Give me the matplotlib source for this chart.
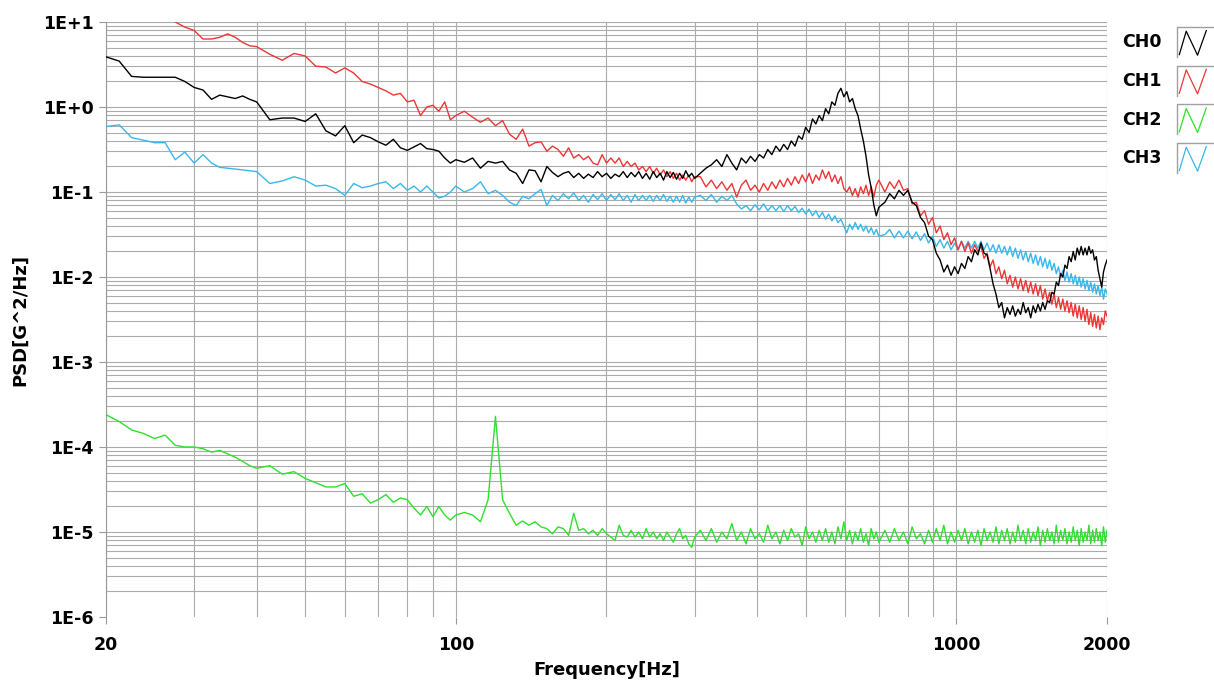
import numpy as np
import matplotlib
matplotlib.use("Agg")
import matplotlib.pyplot as plt
from matplotlib.ticker import FixedLocator, FuncFormatter, LogLocator, NullFormatter
from matplotlib.legend_handler import HandlerBase
from matplotlib.lines import Line2D

# FFT bin frequencies [Hz], coarser at low end
freq = np.concatenate([
    np.arange(20, 40.1, 1.25),
    np.arange(42.5, 100.1, 2.5),
    np.arange(104, 301, 4),
    np.arange(308, 701, 8),
    np.arange(720, 2001, 16),
])

# PSD values, stored as log10(G^2/Hz)
ch0_log = [
    0.59, 0.54, 0.36, 0.35, 0.35, 0.35, 0.35, 0.30, 0.23, 0.20, 0.09, 0.14, 0.12, 0.10, 0.13, 0.09, 0.06,
    -0.15, -0.13, -0.13, -0.17, -0.08, -0.28, -0.34, -0.22, -0.42, -0.33, -0.36, -0.41,
    -0.45, -0.38, -0.48, -0.51, -0.47, -0.43, -0.49, -0.50, -0.52, -0.60, -0.66, -0.62,
    -0.65, -0.60, -0.72, -0.64, -0.66, -0.64, -0.74, -0.78, -0.90, -0.74,
    -0.75, -0.88, -0.70, -0.77, -0.82, -0.78, -0.76, -0.83, -0.78, -0.84,
    -0.79, -0.83, -0.76, -0.82, -0.78, -0.84, -0.79, -0.82, -0.76, -0.83,
    -0.77, -0.82, -0.76, -0.84, -0.78, -0.85, -0.76, -0.83, -0.78, -0.86,
    -0.76, -0.83, -0.77, -0.85, -0.78, -0.84, -0.75, -0.82, -0.78, -0.84,
    -0.78, -0.72, -0.68, -0.62, -0.70, -0.56, -0.66, -0.74, -0.60, -0.66,
    -0.58, -0.64, -0.56, -0.60, -0.50, -0.56, -0.46, -0.52, -0.44, -0.50,
    -0.40, -0.46, -0.34, -0.38, -0.24, -0.30, -0.14, -0.20, -0.10, -0.16,
    -0.02, -0.08, 0.06, 0.02, 0.16, 0.22, 0.12, 0.18, 0.06, 0.10,
    -0.02, -0.10, -0.26, -0.40, -0.58, -0.80, -0.95, -1.15, -1.28, -1.18,
    -1.12, -1.02, -1.08, -0.98, -1.04, -0.98, -1.12, -1.16, -1.30, -1.36,
    -1.52, -1.56, -1.72, -1.80, -1.94, -1.86, -1.98, -1.88, -1.96, -1.84,
    -1.90, -1.76, -1.82, -1.68, -1.74, -1.60, -1.72, -1.74, -1.90, -2.08,
    -2.20, -2.36, -2.30, -2.48, -2.36, -2.44, -2.34, -2.46, -2.38, -2.44,
    -2.30, -2.42, -2.36, -2.48, -2.34, -2.42, -2.32, -2.40, -2.30, -2.38,
    -2.28, -2.30, -2.18, -2.20, -2.06, -2.10, -1.96, -2.00, -1.86, -1.90,
    -1.76, -1.82, -1.70, -1.80, -1.66, -1.74, -1.64, -1.74, -1.66, -1.74,
    -1.64, -1.72, -1.68, -1.80, -1.76, -1.92, -2.02, -2.12, -1.94, -1.86,
    -1.80,
]

ch1_log = [
    1.35, 1.30, 1.25, 1.20, 1.15, 1.08, 1.00, 0.94, 0.90, 0.80, 0.80, 0.82, 0.86, 0.82, 0.76, 0.72, 0.71,
    0.62, 0.55, 0.63, 0.60, 0.48, 0.47, 0.40, 0.46, 0.40, 0.30, 0.27, 0.23,
    0.19, 0.14, 0.16, 0.06, 0.08, -0.10, 0.00, 0.02, -0.05, 0.06, -0.15, -0.10,
    -0.05, -0.12, -0.18, -0.13, -0.22, -0.16, -0.32, -0.38, -0.26, -0.46,
    -0.42, -0.41, -0.52, -0.46, -0.50, -0.58, -0.48, -0.60, -0.56, -0.62,
    -0.58, -0.66, -0.68, -0.56, -0.66, -0.60, -0.66, -0.60, -0.70, -0.64,
    -0.70, -0.66, -0.74, -0.70, -0.76, -0.70, -0.78, -0.72, -0.80, -0.74,
    -0.82, -0.76, -0.84, -0.78, -0.86, -0.80, -0.86, -0.80, -0.88, -0.82,
    -0.82, -0.94, -0.86, -0.96, -0.88, -0.98, -0.90, -1.06, -0.92, -0.86,
    -0.98, -0.92, -1.00, -0.90, -0.98, -0.88, -0.96, -0.86, -0.94, -0.84,
    -0.92, -0.82, -0.90, -0.80, -0.88, -0.78, -0.90, -0.80, -0.86, -0.74,
    -0.84, -0.76, -0.88, -0.80, -0.90, -0.82, -0.96, -1.00, -0.94, -1.04,
    -0.96, -1.06, -0.94, -1.02, -0.92, -1.04, -0.94, -1.06, -0.92, -0.86,
    -1.00, -0.88, -0.96, -0.86, -0.98, -0.96, -1.14, -1.12, -1.28, -1.22,
    -1.38, -1.30, -1.48, -1.40, -1.56, -1.48, -1.62, -1.54, -1.68, -1.58,
    -1.70, -1.60, -1.72, -1.62, -1.70, -1.64, -1.78, -1.72, -1.88, -1.80,
    -1.96, -1.88, -2.02, -1.92, -2.08, -1.98, -2.12, -2.00, -2.14, -2.02,
    -2.16, -2.04, -2.18, -2.06, -2.20, -2.08, -2.22, -2.10, -2.26, -2.14,
    -2.28, -2.18, -2.32, -2.20, -2.36, -2.24, -2.38, -2.26, -2.40, -2.28,
    -2.42, -2.30, -2.46, -2.32, -2.48, -2.34, -2.50, -2.36, -2.52, -2.38,
    -2.56, -2.42, -2.58, -2.44, -2.60, -2.46, -2.62, -2.48, -2.56, -2.40,
    -2.46,
]

ch2_log = [
    -3.62, -3.70, -3.80, -3.84, -3.90, -3.86, -3.98, -4.00, -4.00, -4.02, -4.06, -4.04, -4.08, -4.12, -4.17, -4.22, -4.25,
    -4.22, -4.32, -4.29, -4.37, -4.42, -4.47, -4.47, -4.43, -4.58, -4.55, -4.66, -4.62,
    -4.56, -4.65, -4.60, -4.62, -4.72, -4.80, -4.70, -4.82, -4.70, -4.80, -4.86, -4.80,
    -4.77, -4.80, -4.88, -4.62, -3.64, -4.62, -4.78, -4.92, -4.87, -4.92,
    -4.88, -4.94, -4.96, -5.02, -4.94, -4.96, -5.04, -4.78, -4.98, -4.96,
    -5.02, -4.98, -5.04, -4.96, -5.02, -5.06, -5.10, -4.92, -5.04, -5.06,
    -4.98, -5.06, -5.00, -5.08, -4.96, -5.06, -5.00, -5.08, -5.02, -5.10,
    -5.00, -5.06, -5.12, -5.02, -4.96, -5.08, -5.04, -5.14, -5.18, -5.06,
    -4.98, -5.10, -4.96, -5.12, -5.00, -5.08, -4.90, -5.10, -5.00, -5.14,
    -4.96, -5.08, -5.02, -5.12, -4.92, -5.08, -5.00, -5.14, -4.98, -5.10,
    -4.96, -5.06, -5.02, -5.16, -4.94, -5.08, -5.00, -5.12, -4.98, -5.10,
    -4.96, -5.12, -5.00, -5.14, -4.94, -5.08, -4.88, -5.10, -4.98, -5.14,
    -5.00, -5.10, -4.96, -5.12, -5.02, -5.16, -4.96, -5.08, -5.00, -5.12,
    -4.98, -5.12, -4.96, -5.10, -5.00, -5.14, -4.94, -5.08, -5.02, -5.14,
    -4.98, -5.12, -4.96, -5.10, -4.92, -5.14, -5.00, -5.12, -4.98, -5.10,
    -4.96, -5.14, -5.00, -5.12, -4.98, -5.16, -4.96, -5.10, -5.00, -5.12,
    -4.94, -5.14, -4.98, -5.10, -4.96, -5.14, -5.00, -5.12, -4.92, -5.10,
    -4.98, -5.14, -4.96, -5.12, -5.00, -5.10, -4.94, -5.16, -4.98, -5.12,
    -4.96, -5.10, -5.00, -5.14, -4.92, -5.12, -4.98, -5.10, -4.96, -5.14,
    -5.00, -5.12, -4.94, -5.10, -4.98, -5.16, -4.96, -5.12, -5.00, -5.10,
    -4.92, -5.14, -4.98, -5.12, -4.96, -5.10, -5.00, -5.16, -4.94, -5.12,
    -4.98,
]

ch3_log = [
    -0.23, -0.21, -0.36, -0.39, -0.42, -0.42, -0.62, -0.53, -0.66, -0.56, -0.66, -0.71, -0.72, -0.73, -0.74, -0.75, -0.76,
    -0.90, -0.87, -0.82, -0.86, -0.93, -0.92, -0.96, -1.04, -0.90, -0.95, -0.93, -0.90,
    -0.88, -0.96, -0.90, -0.98, -0.93, -1.00, -0.93, -1.00, -1.07, -1.05, -1.00, -0.93,
    -1.00, -0.96, -0.88, -1.02, -0.98, -1.04, -1.12, -1.16, -1.05, -1.08,
    -1.02, -0.97, -1.16, -1.04, -1.10, -1.02, -1.08, -1.01, -1.10, -1.04,
    -1.12, -1.03, -1.09, -1.02, -1.10, -1.03, -1.09, -1.02, -1.10, -1.04,
    -1.12, -1.03, -1.10, -1.04, -1.10, -1.04, -1.11, -1.04, -1.10, -1.03,
    -1.11, -1.05, -1.12, -1.05, -1.12, -1.04, -1.13, -1.06, -1.12, -1.06,
    -1.04, -1.10, -1.03, -1.12, -1.05, -1.10, -1.04, -1.14, -1.20, -1.16,
    -1.22, -1.15, -1.21, -1.14, -1.22, -1.16, -1.22, -1.16, -1.23, -1.16,
    -1.22, -1.17, -1.24, -1.19, -1.26, -1.20, -1.28, -1.22, -1.30, -1.24,
    -1.32, -1.26, -1.34, -1.28, -1.36, -1.32, -1.40, -1.48, -1.38, -1.44,
    -1.36, -1.44, -1.38, -1.46, -1.40, -1.48, -1.42, -1.50, -1.44, -1.52,
    -1.50, -1.44, -1.54, -1.46, -1.54, -1.46, -1.55, -1.47, -1.57, -1.49,
    -1.60, -1.52, -1.64, -1.56, -1.66, -1.58, -1.68, -1.60, -1.68, -1.58,
    -1.66, -1.58, -1.66, -1.58, -1.66, -1.58, -1.68, -1.60, -1.70, -1.62,
    -1.72, -1.62, -1.72, -1.64, -1.74, -1.64, -1.76, -1.66, -1.78, -1.68,
    -1.80, -1.70, -1.82, -1.72, -1.84, -1.74, -1.86, -1.76, -1.88, -1.78,
    -1.90, -1.80, -1.92, -1.84, -1.96, -1.88, -2.00, -1.92, -2.04, -1.94,
    -2.06, -1.96, -2.08, -1.98, -2.10, -2.00, -2.12, -2.02, -2.14, -2.04,
    -2.16, -2.06, -2.18, -2.08, -2.20, -2.10, -2.22, -2.12, -2.26, -2.14,
    -2.20,
]

channels = ['CH0', 'CH1', 'CH2', 'CH3']
colors = ['#000000', '#ee3535', '#2ee02e', '#38b8ea']
x_tick_vals = [20, 100, 1000, 2000]
x_tick_labels = ['20', '100', '1000', '2000']
y_tick_vals = [1e-6, 1e-5, 1e-4, 1e-3, 1e-2, 1e-1, 1e0, 1e1]


class ZigzagHandler(HandlerBase):
    # legend swatch: light bevelled box with a /\/ stroke in the channel colour
    def create_artists(self, legend, orig_handle, xdescent, ydescent,
                       width, height, fontsize, trans):
        x0, y0 = -xdescent, -ydescent
        box = Line2D([x0, x0, x0 + width], [y0, y0 + height, y0 + height],
                     color='#a0a0a0', lw=1.0, transform=trans)
        zx = x0 + np.array([0.06, 0.25, 0.56, 0.80]) * width
        zy = y0 + np.array([0.08, 0.86, 0.06, 0.88]) * height
        zig = Line2D(zx, zy, color=orig_handle.get_color(), lw=0.9, transform=trans)
        return [box, zig]


fig = plt.figure(figsize=(12.14, 6.84), dpi=100)
ax = fig.add_axes([106 / 1214, 67 / 684, 1001 / 1214, 595 / 684])

series = [ch0_log, ch1_log, ch2_log, ch3_log]
handles = []
for i, (name, vals, col) in enumerate(zip(channels, series, colors)):
    assert len(vals) == len(freq), (name, len(vals), len(freq))
    ln, = ax.plot(freq, 10.0 ** np.array(vals), color=col, lw=1.0, zorder=10 - i, label=name)
    handles.append(ln)

ax.set_xscale('log')
ax.set_yscale('log')
ax.set_xlim(20, 2000)
ax.set_ylim(1e-6, 1e1)

ax.xaxis.set_major_locator(FixedLocator(x_tick_vals))
ax.set_xticklabels(x_tick_labels)
ax.xaxis.set_minor_locator(LogLocator(base=10, subs=np.arange(2, 10), numticks=20))
ax.xaxis.set_minor_formatter(NullFormatter())
ax.yaxis.set_major_locator(FixedLocator(y_tick_vals))
ax.yaxis.set_major_formatter(FuncFormatter(lambda v, p: '1E%+d' % int(round(np.log10(v)))))
ax.yaxis.set_minor_locator(LogLocator(base=10, subs=np.arange(2, 10), numticks=20))
ax.yaxis.set_minor_formatter(NullFormatter())

ax.grid(True, which='both', color='#ababab', lw=0.8)
ax.set_axisbelow(True)
for s in ['top', 'right', 'bottom']:
    ax.spines[s].set_visible(False)
ax.spines['left'].set_color('#999999')

ax.tick_params(which='major', length=5, color='#999999', labelsize=12.5)
ax.tick_params(axis='y', pad=4)
ax.tick_params(axis='x', pad=9)
ax.tick_params(which='minor', length=0)
for lab in ax.get_xticklabels() + ax.get_yticklabels():
    lab.set_fontweight('bold')

ax.set_xlabel('Frequency[Hz]', fontsize=13, fontweight='bold', labelpad=5)
ax.set_ylabel('PSD[G^2/Hz]', fontsize=13, fontweight='bold', labelpad=10)

fig.legend(handles=handles, labels=channels, loc='upper left',
           bbox_to_anchor=(1122 / 1214, 1 - 27 / 684), frameon=False,
           markerfirst=False, handler_map={Line2D: ZigzagHandler()},
           prop={'weight': 'bold', 'size': 12.5}, borderpad=0, borderaxespad=0,
           handlelength=2.1, handleheight=2.28, labelspacing=0.5, handletextpad=0.9)

# the reference has no line along the 1E-6 floor
fig.canvas.draw()
for t in ax.yaxis.get_major_ticks():
    if abs(np.log10(t.get_loc()) + 6) < 1e-6:
        t.gridline.set_visible(False)

fig.savefig('out.png', dpi=100)
